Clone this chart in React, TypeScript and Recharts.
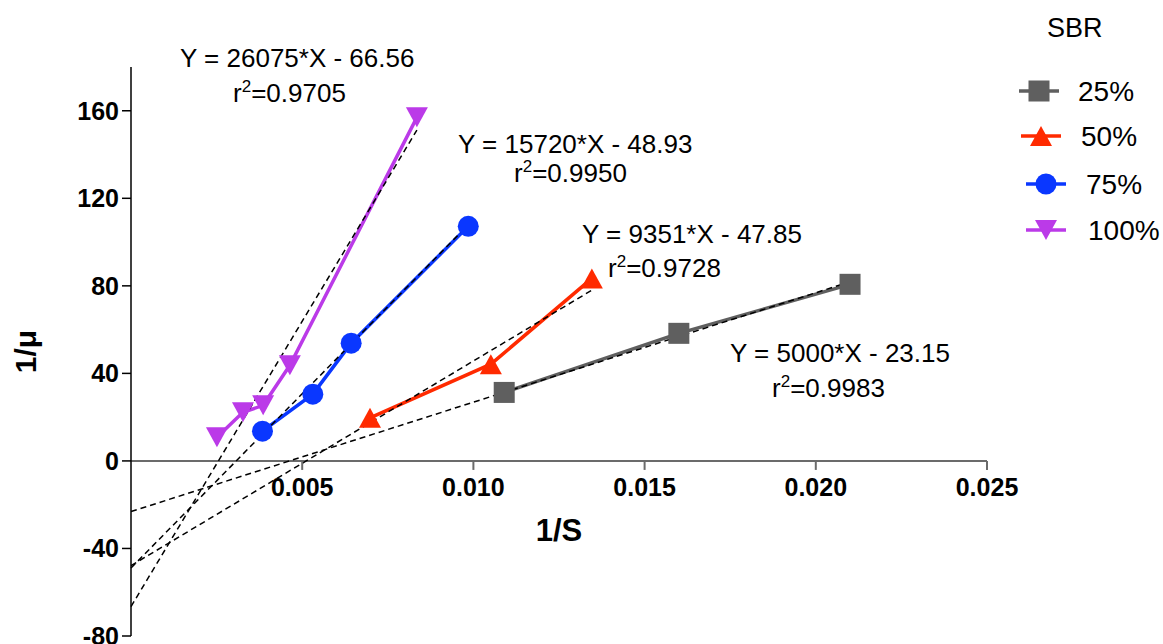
import { ComposedChart, Line, XAxis, YAxis, ReferenceLine, ReferenceDot } from "recharts";

// 1/S vs 1/mu, one series per SBR level
const SBR_25 = [
    { x: 0.0109, y: 31.3 },
    { x: 0.0160, y: 58.3 },
    { x: 0.0210, y: 80.7 },
];
const SBR_50 = [
    { x: 0.00698, y: 19.7 },
    { x: 0.01051, y: 44.2 },
    { x: 0.01346, y: 83.4 },
];
const SBR_75 = [
    { x: 0.00384, y: 13.6 },
    { x: 0.00531, y: 30.5 },
    { x: 0.00643, y: 53.8 },
    { x: 0.00985, y: 107.2 },
];
const SBR_100 = [
    { x: 0.00251, y: 10.8 },
    { x: 0.00327, y: 22.2 },
    { x: 0.00386, y: 25.4 },
    { x: 0.00464, y: 43.7 },
    { x: 0.00835, y: 157.0 },
];

// regression lines, from x = 0 to the last point
const FIT_25 = [{ x: 0, y: -23.15 }, { x: 0.021, y: 81.85 }];
const FIT_50 = [{ x: 0, y: -47.85 }, { x: 0.01346, y: 78.02 }];
const FIT_75 = [{ x: 0, y: -48.93 }, { x: 0.00985, y: 107.92 }];
const FIT_100 = [{ x: 0, y: -66.56 }, { x: 0.00835, y: 151.17 }];

const X_TICKS = [0.005, 0.01, 0.015, 0.02, 0.025];
const Y_TICKS = [-80, -40, 0, 40, 80, 120, 160];

const LEGEND_LABELS = ["25%", "50%", "75%", "100%"];
const EQUATIONS = [
    { eq: "Y = 26075*X - 66.56", r2: "0.9705" },
    { eq: "Y = 15720*X - 48.93", r2: "0.9950" },
    { eq: "Y = 9351*X - 47.85", r2: "0.9728" },
    { eq: "Y = 5000*X - 23.15", r2: "0.9983" },
];

const GRAY = "#5f5f5f";
const RED = "#ff2a00";
const BLUE = "#0a37ff";
const PURPLE = "#bb3ae8";
const FONT = "'Liberation Sans', Arial, sans-serif";

type Shape = "square" | "up" | "circle" | "down";

function marker(shape: Shape, color: string, cx: number, cy: number, key?: string | number) {
    if (shape === "square") return <rect key={key} x={cx - 10.5} y={cy - 10.5} width={21} height={21} fill={color} />;
    if (shape === "circle") return <circle key={key} cx={cx} cy={cy} r={10.5} fill={color} />;
    if (shape === "up") return <polygon key={key} points={`${cx},${cy - 10} ${cx + 11},${cy + 10} ${cx - 11},${cy + 10}`} fill={color} />;
    return <polygon key={key} points={`${cx - 11},${cy - 10} ${cx + 11},${cy - 10} ${cx},${cy + 10}`} fill={color} />;
}

const dotFor = (shape: Shape, color: string) => (p: any) => marker(shape, color, p.cx, p.cy, p.index);

const SERIES: { data: { x: number; y: number }[]; color: string; shape: Shape }[] = [
    { data: SBR_25, color: GRAY, shape: "square" },
    { data: SBR_50, color: RED, shape: "up" },
    { data: SBR_75, color: BLUE, shape: "circle" },
    { data: SBR_100, color: PURPLE, shape: "down" },
];
const FITS = [FIT_25, FIT_50, FIT_75, FIT_100];

function Equation({ x1, y1, x2, y2, eq, r2 }: { x1: number; y1: number; x2: number; y2: number; eq: string; r2: string }) {
    return (
        <g fontFamily={FONT} fontSize={26} fill="#000">
            <text x={x1} y={y1}>{eq}</text>
            <text x={x2} y={y2}>
                r<tspan dy={-10} fontSize={17}>2</tspan><tspan dy={10}>={r2}</tspan>
            </text>
        </g>
    );
}

export default function App() {
    return (
        <div style={{ position: "absolute", left: 0, top: 0, width: 1163, height: 644, background: "#fff" }}>
            <ComposedChart width={1163} height={644} margin={{ top: 67, right: 176, bottom: 8, left: 0 }}>
                <XAxis type="number" dataKey="x" domain={[0, 0.025]} hide />
                <YAxis
                    type="number"
                    dataKey="y"
                    domain={[-80, 180]}
                    ticks={Y_TICKS}
                    width={131}
                    interval={0}
                    stroke="#000"
                    axisLine={{ stroke: "#000", strokeWidth: 1.5 }}
                    tickLine={{ stroke: "#000", strokeWidth: 1.5 }}
                    tickSize={9}
                    tickMargin={3}
                    tick={{ fontSize: 25, fontWeight: "bold", fill: "#000", fontFamily: FONT }}
                    label={{
                        content: ({ viewBox }: any) => (
                            <text
                                x={viewBox.x + 36}
                                y={viewBox.y + viewBox.height / 2}
                                transform={`rotate(-90, ${viewBox.x + 36}, ${viewBox.y + viewBox.height / 2})`}
                                textAnchor="middle"
                                fontSize={30}
                                fontWeight="bold"
                                fontFamily={FONT}
                                fill="#000"
                            >
                                1/μ
                            </text>
                        ),
                    }}
                />
                <ReferenceLine
                    y={0}
                    stroke="#6b6b6b"
                    strokeWidth={2}
                    label={{ value: "1/S", position: "bottom", offset: 58, fontSize: 31, fontWeight: "bold", fill: "#000", fontFamily: FONT }}
                />
                {X_TICKS.map((t) => (
                    <ReferenceDot
                        key={t}
                        x={t}
                        y={0}
                        r={0}
                        shape={(p: any) => (
                            <g>
                                <line x1={p.cx} y1={p.cy} x2={p.cx} y2={p.cy + 9} stroke="#6b6b6b" strokeWidth={2} />
                                <text x={p.cx} y={p.cy + 35} textAnchor="middle" fontSize={25} fontWeight="bold" fontFamily={FONT} fill="#000">
                                    {t.toFixed(3)}
                                </text>
                            </g>
                        )}
                    />
                ))}
                {SERIES.map((s, i) => (
                    <Line
                        key={i}
                        data={s.data}
                        dataKey="y"
                        type="linear"
                        stroke={s.color}
                        strokeWidth={3.5}
                        dot={dotFor(s.shape, s.color)}
                        activeDot={false}
                        isAnimationActive={false}
                    />
                ))}
                {FITS.map((f, i) => (
                    <Line
                        key={`fit${i}`}
                        data={f}
                        dataKey="y"
                        type="linear"
                        stroke="#000"
                        strokeWidth={1.5}
                        strokeDasharray="6 4"
                        dot={false}
                        activeDot={false}
                        isAnimationActive={false}
                    />
                ))}
            </ComposedChart>

            <svg width={1163} height={644} style={{ position: "absolute", left: 0, top: 0, pointerEvents: "none" }}>
                <Equation x1={180} y1={67} x2={233} y2={102} eq={EQUATIONS[0].eq} r2={EQUATIONS[0].r2} />
                <Equation x1={458} y1={153} x2={514} y2={182} eq={EQUATIONS[1].eq} r2={EQUATIONS[1].r2} />
                <Equation x1={582} y1={243} x2={608} y2={277} eq={EQUATIONS[2].eq} r2={EQUATIONS[2].r2} />
                <Equation x1={730} y1={362} x2={772} y2={397} eq={EQUATIONS[3].eq} r2={EQUATIONS[3].r2} />

                <g fontFamily={FONT} fill="#000">
                    <text x={1047} y={37} fontSize={27}>SBR</text>
                    {SERIES.map((s, i) => {
                        const rowY = [91, 136, 184, 230][i];
                        const lineX = [1019, 1021, 1026, 1026][i];
                        const textX = [1078, 1081, 1086, 1088][i];
                        return (
                            <g key={i}>
                                <line x1={lineX} y1={rowY} x2={lineX + 40} y2={rowY} stroke={s.color} strokeWidth={3.5} />
                                {marker(s.shape, s.color, lineX + 20, rowY)}
                                <text x={textX} y={rowY + 10} fontSize={28}>{LEGEND_LABELS[i]}</text>
                            </g>
                        );
                    })}
                </g>
            </svg>
        </div>
    );
}
